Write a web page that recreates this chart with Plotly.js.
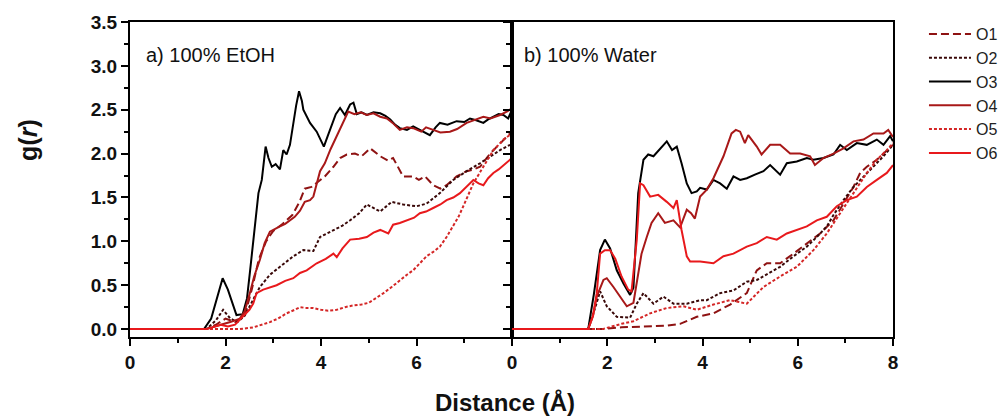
<!DOCTYPE html>
<html>
<head>
<meta charset="utf-8">
<script src="https://cdn.plot.ly/plotly-3.0.1.min.js"></script>
<style>html,body{margin:0;padding:0;background:#fff;}#chart{width:1003px;height:419px;}</style>
</head>
<body>
<div id="chart"></div>
<script>
// ---------- Data: panel a) 100% EtOH ----------
const rO1a = [0,1.6,1.8,2.0,2.2,2.4,2.55,2.7,2.85,3.0,3.2,3.4,3.55,3.66,3.8,3.9,4.08,4.26,4.4,4.54,4.71,4.85,5.03,5.24,5.4,5.51,5.72,5.93,6.05,6.18,6.35,6.5,6.63,6.84,7.05,7.2,7.33,7.54,7.75,7.96];
const gO1a = [0,0,0.05,0.12,0.08,0.15,0.45,0.8,1.0,1.12,1.2,1.3,1.45,1.6,1.62,1.66,1.74,1.85,1.95,1.99,2.0,1.97,2.06,1.97,1.92,1.95,1.74,1.74,1.70,1.74,1.64,1.60,1.64,1.74,1.80,1.82,1.85,2.0,2.12,2.23];
const rO2a = [0,1.6,1.8,1.95,2.1,2.25,2.4,2.55,2.72,2.93,3.14,3.42,3.63,3.84,3.98,4.26,4.45,4.61,4.8,4.96,5.1,5.24,5.48,5.72,6.0,6.21,6.49,6.77,7.05,7.33,7.61,7.75,7.96];
const gO2a = [0,0,0.1,0.22,0.12,0.08,0.15,0.3,0.48,0.62,0.71,0.83,0.90,0.89,1.05,1.13,1.18,1.24,1.32,1.42,1.38,1.34,1.45,1.42,1.40,1.43,1.55,1.70,1.80,1.89,1.99,2.04,2.10];
const rO3a = [0,1.55,1.7,1.85,1.94,2.05,2.15,2.23,2.36,2.45,2.51,2.62,2.69,2.76,2.84,2.9,2.97,3.05,3.14,3.21,3.28,3.35,3.42,3.48,3.54,3.6,3.63,3.7,3.77,3.91,4.0,4.06,4.14,4.22,4.31,4.40,4.50,4.61,4.68,4.75,4.85,4.96,5.1,5.24,5.35,5.45,5.55,5.65,5.8,5.93,6.1,6.28,6.4,6.49,6.65,6.84,7.0,7.12,7.25,7.40,7.5,7.61,7.72,7.82,7.92,8.0];
const gO3a = [0,0,0.12,0.42,0.58,0.45,0.28,0.16,0.17,0.35,0.64,1.21,1.55,1.70,2.08,1.95,1.85,1.88,1.82,2.04,1.99,2.1,2.35,2.55,2.71,2.6,2.50,2.42,2.35,2.25,2.15,2.08,2.2,2.31,2.45,2.52,2.44,2.56,2.58,2.45,2.47,2.44,2.47,2.46,2.43,2.39,2.33,2.29,2.27,2.31,2.26,2.21,2.3,2.35,2.33,2.37,2.36,2.40,2.38,2.35,2.39,2.42,2.45,2.44,2.40,2.50];
const rO4a = [0,1.6,1.9,2.1,2.3,2.4,2.51,2.6,2.72,2.82,2.93,3.05,3.14,3.25,3.35,3.45,3.56,3.66,3.77,3.84,3.98,4.08,4.2,4.33,4.45,4.57,4.7,4.83,4.96,5.1,5.24,5.38,5.5,5.65,5.8,5.93,6.1,6.2,6.35,6.5,6.7,6.85,7.05,7.2,7.40,7.55,7.75,7.9,8.0];
const gO4a = [0,0,0.05,0.08,0.12,0.2,0.41,0.6,0.79,0.98,1.11,1.15,1.17,1.2,1.24,1.28,1.35,1.45,1.47,1.51,1.80,1.89,2.05,2.20,2.35,2.48,2.45,2.47,2.44,2.46,2.42,2.40,2.35,2.27,2.30,2.29,2.25,2.30,2.27,2.24,2.25,2.28,2.35,2.38,2.42,2.40,2.44,2.48,2.52];
const rO5a = [0,2.3,2.58,2.93,3.1,3.28,3.45,3.56,3.7,3.84,4.0,4.15,4.33,4.5,4.68,4.85,5.0,5.15,5.31,5.48,5.65,5.8,5.93,6.07,6.21,6.35,6.49,6.63,6.77,6.88,6.98,7.08,7.19,7.3,7.40,7.5,7.61,7.72,7.82,8.0];
const gO5a = [0,0,0.02,0.08,0.12,0.18,0.22,0.25,0.24,0.24,0.22,0.21,0.22,0.25,0.27,0.28,0.30,0.35,0.41,0.48,0.56,0.62,0.67,0.75,0.83,0.88,0.94,1.05,1.17,1.28,1.40,1.52,1.66,1.76,1.85,1.95,2.04,2.10,2.16,2.23];
const rO6a = [0,1.6,1.9,2.05,2.2,2.37,2.5,2.58,2.65,2.79,3.07,3.25,3.42,3.56,3.70,3.91,4.1,4.26,4.33,4.45,4.61,4.8,4.96,5.1,5.24,5.41,5.51,5.65,5.79,5.95,6.07,6.2,6.35,6.5,6.63,6.77,6.91,7.05,7.19,7.30,7.40,7.5,7.61,7.72,7.82,7.92,8.0];
const gO6a = [0,0,0.05,0.03,0.05,0.14,0.22,0.29,0.41,0.45,0.50,0.55,0.58,0.64,0.67,0.75,0.80,0.86,0.82,0.92,1.02,1.03,1.05,1.10,1.13,1.09,1.19,1.21,1.24,1.27,1.32,1.34,1.38,1.42,1.47,1.50,1.55,1.62,1.70,1.66,1.64,1.72,1.78,1.82,1.87,1.92,1.95];

// ---------- Data: panel b) 100% Water ----------
const rO1b = [0,1.9,2.3,2.8,3.25,3.53,3.88,4.23,4.58,4.93,5.14,5.35,5.63,5.91,6.19,6.47,6.75,6.96,7.17,7.31,7.45,7.66,7.87,8.0];
const gO1b = [0,0,0.02,0.03,0.04,0.06,0.14,0.18,0.28,0.41,0.67,0.75,0.75,0.86,0.98,1.09,1.24,1.43,1.62,1.78,1.85,1.93,2.04,2.10];
const rO2b = [0,1.6,1.75,1.85,1.99,2.20,2.48,2.62,2.76,2.97,3.18,3.39,3.67,3.95,4.09,4.37,4.65,4.93,5.14,5.42,5.63,5.91,6.19,6.40,6.61,6.75,6.96,7.17,7.38,7.59,7.80,7.97];
const gO2b = [0,0,0.25,0.43,0.26,0.14,0.13,0.29,0.41,0.29,0.37,0.29,0.29,0.33,0.33,0.41,0.44,0.54,0.56,0.65,0.71,0.83,0.94,1.05,1.17,1.30,1.47,1.62,1.74,1.85,1.97,2.08];
const rO3b = [0,1.6,1.72,1.85,1.95,2.06,2.2,2.34,2.48,2.55,2.6,2.65,2.76,2.86,2.97,3.11,3.25,3.36,3.46,3.56,3.67,3.77,3.88,3.95,4.09,4.23,4.37,4.51,4.65,4.79,4.93,5.1,5.28,5.42,5.63,5.77,5.98,6.19,6.33,6.54,6.75,6.89,7.03,7.24,7.45,7.66,7.80,7.94,8.0];
const gO3b = [0,0,0.4,0.90,1.02,0.92,0.67,0.52,0.39,0.47,1.0,1.55,1.93,1.99,1.97,2.06,2.14,2.04,2.08,1.89,1.66,1.55,1.57,1.61,1.59,1.70,1.66,1.60,1.74,1.70,1.72,1.76,1.80,1.87,1.76,1.89,1.91,1.95,1.93,1.95,1.99,2.10,2.04,2.12,2.10,2.16,2.10,2.20,2.14];
const rO4b = [0,1.6,1.7,1.78,1.92,1.99,2.13,2.27,2.41,2.55,2.63,2.72,2.83,2.93,3.07,3.21,3.39,3.53,3.67,3.76,3.84,3.95,4.09,4.23,4.44,4.61,4.70,4.79,4.89,4.96,5.14,5.24,5.42,5.63,5.84,6.05,6.26,6.36,6.54,6.75,6.96,7.17,7.38,7.59,7.80,7.90,8.0];
const gO4b = [0,0,0.15,0.37,0.56,0.58,0.48,0.37,0.26,0.30,0.55,0.86,1.05,1.21,1.32,1.21,1.24,1.16,1.36,1.32,1.26,1.51,1.59,1.72,1.97,2.23,2.27,2.25,2.12,2.21,2.08,1.99,2.10,2.10,2.0,2.0,1.97,1.87,1.95,2.0,2.06,2.14,2.16,2.23,2.23,2.27,2.19];
const rO5b = [0,1.9,2.3,2.55,2.90,3.25,3.60,3.88,4.23,4.58,4.93,5.28,5.63,5.98,6.33,6.61,6.89,7.17,7.45,7.66,7.87,8.0];
const gO5b = [0,0,0.06,0.09,0.18,0.24,0.26,0.22,0.28,0.33,0.29,0.48,0.60,0.71,0.90,1.09,1.32,1.55,1.78,1.93,2.04,2.12];
const rO6b = [0,1.6,1.7,1.78,1.85,1.95,2.06,2.17,2.30,2.44,2.51,2.62,2.69,2.76,2.90,3.07,3.25,3.39,3.46,3.56,3.67,3.74,3.95,4.23,4.44,4.65,4.93,5.14,5.35,5.56,5.77,5.98,6.19,6.40,6.61,6.82,7.03,7.24,7.45,7.66,7.87,8.0];
const gO6b = [0,0,0.15,0.41,0.86,0.90,0.90,0.80,0.60,0.45,0.43,1.02,1.66,1.64,1.51,1.53,1.45,1.38,1.47,1.13,0.83,0.77,0.77,0.75,0.83,0.86,0.94,0.98,1.05,1.02,1.09,1.13,1.17,1.24,1.28,1.40,1.47,1.51,1.62,1.70,1.78,1.87];

const seriesNames = ['O1','O2','O3','O4','O5','O6'];
const panelLabels = ['a) 100% EtOH','b) 100% Water'];
const yTickVals = [0,0.5,1.0,1.5,2.0,2.5,3.0,3.5];

// ---------- Styles ----------
const styles = {
  O1:{color:'#8e1212', dash:'8px,4px'},
  O2:{color:'#3a0808', dash:'3px,2px'},
  O3:{color:'#000000', dash:'solid'},
  O4:{color:'#a81818', dash:'solid'},
  O5:{color:'#d42626', dash:'3px,2px'},
  O6:{color:'#e8191c', dash:'solid'}
};
const dataA = {O1:[rO1a,gO1a],O2:[rO2a,gO2a],O3:[rO3a,gO3a],O4:[rO4a,gO4a],O5:[rO5a,gO5a],O6:[rO6a,gO6a]};
const dataB = {O1:[rO1b,gO1b],O2:[rO2b,gO2b],O3:[rO3b,gO3b],O4:[rO4b,gO4b],O5:[rO5b,gO5b],O6:[rO6b,gO6b]};

const traces = [];
seriesNames.forEach(n => {
  traces.push({x:dataA[n][0], y:dataA[n][1], xaxis:'x', yaxis:'y', type:'scatter', mode:'lines',
    name:n, showlegend:false, line:{color:styles[n].color, dash:styles[n].dash, width:2}});
});
seriesNames.forEach(n => {
  traces.push({x:dataB[n][0], y:dataB[n][1], xaxis:'x2', yaxis:'y2', type:'scatter', mode:'lines',
    name:n, showlegend:true, line:{color:styles[n].color, dash:styles[n].dash, width:2}});
});

const FONT = 'Liberation Sans, Arial, sans-serif';
const tickFont = {family:FONT, size:19, color:'#111', weight:'bold'};
const split = 382/763;

const axCommon = {
  showline:true, linecolor:'#000', linewidth:2, mirror:true,
  showgrid:false, zeroline:false, ticks:'outside', ticklen:7, tickwidth:2, tickcolor:'#000',
  tickfont:tickFont
};

const layout = {
  width:1003, height:419,
  margin:{l:130, r:110, t:22, b:82, autoexpand:false},
  paper_bgcolor:'#fff', plot_bgcolor:'#fff',
  font:{family:FONT, color:'#111'},
  showlegend:true,
  legend:{xref:'container', yref:'container', x:0.9212, xanchor:'left', y:0.9594, yanchor:'top', bgcolor:'rgba(0,0,0,0)',
    font:{family:FONT, size:16, color:'#222'}, traceorder:'normal', itemwidth:42},
  xaxis:Object.assign({}, axCommon, {domain:[0, split], range:[0,8], tickmode:'array', tickvals:[0,2,4,6],
    minor:{tickmode:'array', tickvals:[1,3,5,7], ticks:'outside', ticklen:4, tickwidth:2, tickcolor:'#000'}, anchor:'y'}),
  xaxis2:Object.assign({}, axCommon, {domain:[split, 1], range:[0,8], tickmode:'array', tickvals:[0,2,4,6,8],
    minor:{tickmode:'array', tickvals:[1,3,5,7], ticks:'outside', ticklen:4, tickwidth:2, tickcolor:'#000'}, anchor:'y2'}),
  yaxis:Object.assign({}, axCommon, {range:[-0.09,3.5], tickmode:'array', tickvals:yTickVals, tickformat:'.1f',
    minor:{dtick:0.25, ticks:'outside', ticklen:4, tickwidth:2, tickcolor:'#000'}, anchor:'x'}),
  yaxis2:Object.assign({}, axCommon, {range:[-0.09,3.5], tickmode:'array', tickvals:yTickVals, showticklabels:false,
    minor:{dtick:0.25, ticks:'outside', ticklen:4, tickwidth:2, tickcolor:'#000'}, anchor:'x2', matches:'y'}),
  annotations:[
    {xref:'x', yref:'y', x:0.3, y:3.12, xanchor:'left', yanchor:'middle', text:panelLabels[0], showarrow:false,
     font:{family:FONT, size:20, color:'#111'}},
    {xref:'x2', yref:'y2', x:0.2, y:3.12, xanchor:'left', yanchor:'middle', text:panelLabels[1], showarrow:false,
     font:{family:FONT, size:20, color:'#111'}},
    {xref:'paper', yref:'paper', x:0.491, y:-0.207, xanchor:'center', yanchor:'middle', text:'Distance (Å)', showarrow:false,
     font:{family:FONT, size:24, color:'#111', weight:'bold'}},
    {xref:'paper', yref:'paper', x:-0.134, y:0.625, xanchor:'center', yanchor:'middle', text:'g(<i>r</i>)', textangle:-90, showarrow:false,
     font:{family:FONT, size:25, color:'#111', weight:'bold'}}
  ]
};

Plotly.newPlot('chart', traces, layout, {displayModeBar:false, staticPlot:true});
</script>
</body>
</html>
